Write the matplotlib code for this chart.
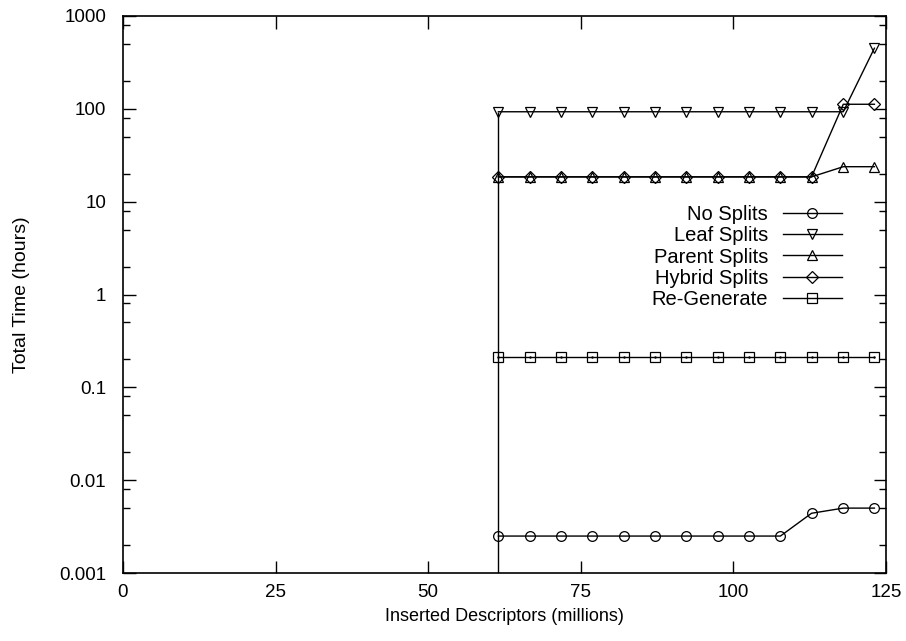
import matplotlib
matplotlib.use("Agg")
import matplotlib.pyplot as plt
from matplotlib.ticker import FixedLocator, NullFormatter, FixedFormatter

plt.rcParams['font.family'] = ['Liberation Sans', 'DejaVu Sans']

# Data (x in millions of inserted descriptors, y in hours)
x = [61.5, 66.6, 71.8, 76.9, 82.0, 87.2, 92.3, 97.4, 102.6, 107.7, 112.8, 118.0, 123.1]
no_splits = [0.0025, 0.0025, 0.0025, 0.0025, 0.0025, 0.0025, 0.0025, 0.0025, 0.0025, 0.0025, 0.0044, 0.005, 0.005]
leaf_splits = [93, 93, 93, 93, 93, 93, 93, 93, 93, 93, 93, 93, 450]
parent_splits = [18.5, 18.5, 18.5, 18.5, 18.5, 18.5, 18.5, 18.5, 18.5, 18.5, 18.5, 23.8, 23.8]
hybrid_splits = [18.5, 18.5, 18.5, 18.5, 18.5, 18.5, 18.5, 18.5, 18.5, 18.5, 18.5, 112, 112]
regenerate = [0.213, 0.213, 0.213, 0.213, 0.213, 0.213, 0.213, 0.213, 0.213, 0.213, 0.213, 0.213, 0.213]

series_names = ["No Splits", "Leaf Splits", "Parent Splits", "Hybrid Splits", "Re-Generate"]
series_values = [no_splits, leaf_splits, parent_splits, hybrid_splits, regenerate]
markers = ["o", "v", "^", "D", "s"]
marker_sizes = [7, 7.5, 7.5, 6, 6.5]

x_ticks = [0, 25, 50, 75, 100, 125]
y_ticks = [0.001, 0.01, 0.1, 1, 10, 100, 1000]
y_tick_labels = ["0.001", "0.01", "0.1", "1", "10", "100", "1000"]

fig = plt.figure(figsize=(9.06, 6.41), dpi=100)
ax = fig.add_axes([123/906, 1-573/641, (886-123)/906, (573-16)/641])

ymin, ymax = 0.001, 1000
# vertical drop line at first x position
ax.vlines(x[0], ymin, max(v[0] for v in series_values), color='black', lw=1.0, zorder=2)

handles = []
for name, vals, m, ms in zip(series_names, series_values, markers, marker_sizes):
    h, = ax.plot(x, vals, color='black', lw=1.0, marker=m, markersize=ms,
                 markerfacecolor='none', markeredgecolor='black', markeredgewidth=0.9,
                 label=name, zorder=3)
    handles.append(h)
# dot at the center of the squares (gnuplot style)
ax.plot(x, regenerate, linestyle='none', marker='.', markersize=1.5, color='black', zorder=4)

ax.set_yscale('log')
ax.set_xlim(0, 125)
ax.set_ylim(ymin, ymax)

ax.xaxis.set_major_locator(FixedLocator(x_ticks))
ax.set_xticklabels([str(t) for t in x_ticks])
ax.yaxis.set_major_locator(FixedLocator(y_ticks))
ax.yaxis.set_major_formatter(FixedFormatter(y_tick_labels))
minor = []
for d in [0.001, 0.01, 0.1, 1, 10, 100]:
    for k in (2, 5, 8):
        minor.append(d * k)
ax.yaxis.set_minor_locator(FixedLocator(minor))
ax.yaxis.set_minor_formatter(NullFormatter())

ax.tick_params(axis='both', which='major', direction='in', length=9, width=1.0,
               top=True, right=True, labelsize=13.5, colors='black')
ax.tick_params(axis='y', which='minor', direction='in', length=5, width=1.0,
               left=True, right=True)
ax.tick_params(axis='y', which='major', pad=12)
ax.tick_params(axis='x', which='major', pad=8)
ax.tick_params(axis='x', which='minor', bottom=False, top=False)

for s in ax.spines.values():
    s.set_linewidth(1.2)
    s.set_color('black')

ax.set_xlabel("Inserted Descriptors (millions)", fontsize=13, labelpad=5)
ax.set_ylabel("Total Time (hours)", fontsize=14)
ax.yaxis.set_label_coords(-0.122, 0.5)

leg = ax.legend(handles=handles, loc='upper right', bbox_to_anchor=(0.953, 0.675),
                frameon=False, markerfirst=False, fontsize=14.5, handlelength=2.95,
                handletextpad=0.72, labelspacing=0.11, borderaxespad=0)
for t in leg.get_texts():
    t.set_ha('right')
leg._legend_box.align = "right"

fig.savefig("out.png", dpi=100)
